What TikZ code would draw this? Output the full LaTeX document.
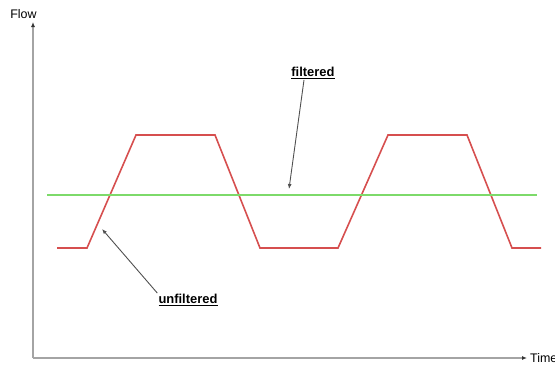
\documentclass[tikz,border=0pt]{standalone}
\usepackage{fontspec}
\usetikzlibrary{arrows.meta}
\setmainfont{Liberation Sans}
\definecolor{axisgray}{HTML}{A4A4A4}
\definecolor{notegray}{HTML}{505050}
\definecolor{flowred}{HTML}{D64F4F}
\definecolor{flowgreen}{HTML}{7DDA6A}
\begin{document}
\begin{tikzpicture}[x=1bp,y=-1bp,
        axis/.style={draw=axisgray,line width=1.5bp,-{Latex[length=5bp,width=4bp,color=black!80]}},
        note/.style={draw=notegray,line width=0.9bp,-{Latex[length=5bp,width=4bp]}},
        txt/.style={font=\fontsize{12.5}{14}\selectfont,inner sep=1bp},
        label/.style={txt,font=\fontsize{13}{15}\selectfont\bfseries}]
    \useasboundingbox (0,0) rectangle (555,365);
    % axes
    \coordinate (O) at (33,358);
    \coordinate (ytop) at (33,22);
    \coordinate (xend) at (527,358);
    \draw[axis] (O) -- (ytop);
    \draw[axis] (O) -- (xend);
    \node[txt] (flow) at (23.5,14) {Flow};
    \node[txt,anchor=west] (time) at (529,358) {Time};
    % signals
    \draw[flowred,line width=1.6bp] (57,248) -- (87,248)
        -- (136,135) -- (215,135) -- (260,248) -- (338,248)
        -- (388,135) -- (467,135) -- (512,248) -- (541,248);
    \draw[flowgreen,line width=2.2bp] (47,195) -- (537,195);
    % labels
    \node[label] (filtered) at (313,73) {\underline{filtered}};
    \coordinate (fhit) at (289,189);
    \draw[note] ([xshift=-9bp]filtered.south) -- (fhit);
    \node[label] (unfiltered) at (188,300) {\underline{unfiltered}};
    \coordinate (uhit) at (102,229);
    \draw[note] (unfiltered.north west) -- (uhit);
\end{tikzpicture}
\end{document}
